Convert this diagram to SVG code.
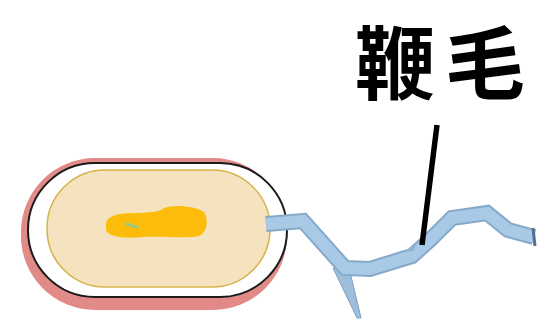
<svg xmlns="http://www.w3.org/2000/svg" width="546" height="334" viewBox="0 0 546 334">
  <style>
    .label { font-family: "Noto Sans CJK JP", "Noto Sans CJK SC", sans-serif; font-weight: 700; font-size: 80px; fill: #000; }
    .flag-edge { fill: none; stroke: #86a9c9; stroke-width: 16; stroke-linejoin: miter; stroke-linecap: butt; }
    .flag-body { fill: none; stroke: #a8cae7; stroke-width: 12; stroke-linejoin: miter; stroke-linecap: butt; }
  </style>
  <rect width="546" height="334" fill="#ffffff"/>

  <!-- bacterial cell -->
  <g id="cell">
    <!-- capsule, offset towards lower left -->
    <rect x="21" y="158" width="266" height="152" rx="74" ry="74" fill="#df8482" opacity="0.95"/>
    <!-- cell wall -->
    <rect x="28" y="163" width="259" height="134" rx="67" ry="67" fill="#ffffff" stroke="#1a1a1a" stroke-width="2"/>
    <!-- cytoplasm -->
    <rect x="47" y="170" width="223" height="117" rx="58" ry="58" fill="#f5e2be" stroke="#d6b24a" stroke-width="1.5"/>
    <!-- nucleoid -->
    <path d="M106 224 C107 214 122 213 140 213 C152 212 160 212 164 208 C174 204 196 206 204 212 C209 220 207 233 199 236 C184 239 164 236 144 237 C126 239 108 237 106 230 Z" fill="#fbbd0a"/>
    <path d="M127 224 L137 227" stroke="#9cc77a" stroke-width="3" stroke-linecap="round"/>
  </g>

  <!-- flagellum -->
  <g id="flagellum">
    <polygon points="333,268 350,272 361,318 357,318" fill="#9dbfdc" stroke="#7d9fbf" stroke-width="1"/>
    <path class="flag-edge" d="M266 224 L303 221 L345 268 L370 269 L412 256 L430 240 L452 218 L487 213 L508 230 L534 237"/>
    <path class="flag-body" d="M266 224 L303 221 L345 268 L370 269 L412 256 L430 240 L452 218 L487 213 L508 230 L534 237"/>
    <polygon points="404,252 416,244 414,251" fill="#8fb2d2"/>
    <path d="M533 228 L535 246" stroke="#55708c" stroke-width="3"/>
  </g>

  <!-- label with leader line -->
  <g id="label-flagellum">
    <text class="label" x="355" y="93" letter-spacing="10">鞭毛</text>
    <line x1="437" y1="125" x2="422" y2="245" stroke="#000" stroke-width="5.5"/>
  </g>
</svg>
